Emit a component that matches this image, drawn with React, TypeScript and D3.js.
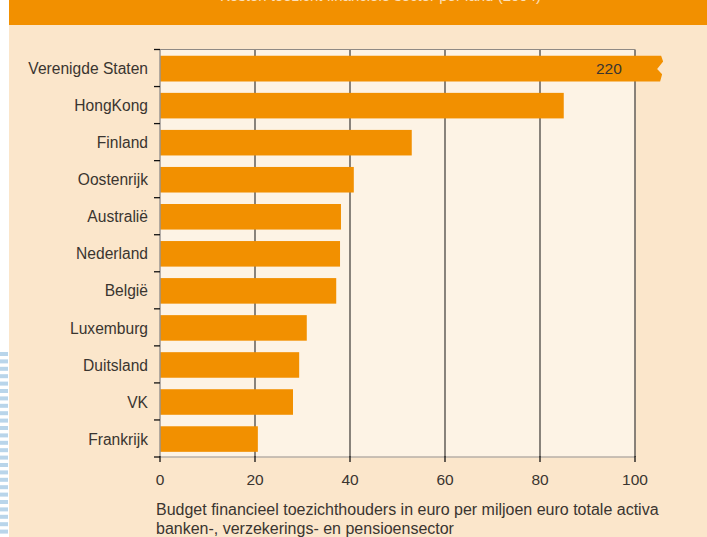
import React from "react";
import * as d3 from "d3";

const categories = [
  "Verenigde Staten",
  "HongKong",
  "Finland",
  "Oostenrijk",
  "Australië",
  "Nederland",
  "België",
  "Luxemburg",
  "Duitsland",
  "VK",
  "Frankrijk",
];
const values = [220, 85, 53, 40.8, 38.1, 37.9, 37.1, 30.9, 29.3, 28, 20.6];
const xTicks = [0, 20, 40, 60, 80, 100];
const captionLines = [
  "Budget financieel toezichthouders in euro per miljoen euro totale activa",
  "banken-, verzekerings- en pensioensector",
];
const breakValue = 105.5;

const W = 707;
const H = 537;
const ORANGE = "#f29000";
const BG = "#fbe6cb";
const PLOT_BG = "#fdf3e5";
const TEXT = "#3a3530";
const FONT = "'Liberation Sans', Arial, sans-serif";

export default function App() {
  const x = d3.scaleLinear().domain([0, 100]).range([160, 635]);
  const y = d3
    .scaleBand<string>()
    .domain(categories)
    .range([49.5, 457])
    .paddingInner(0.31)
    .paddingOuter(0.155)
    .align(0.55);
  const bandTop = (i: number) => 49.5 + i * ((457 - 49.5) / categories.length);

  const dashes = d3.range(352, 537, 7.4);

  return (
    <svg
      width={W}
      height={H}
      style={{ position: "absolute", left: 0, top: 0, display: "block" }}
      fontFamily={FONT}
    >
      <rect x={0} y={0} width={W} height={H} fill="#ffffff" />
      {dashes.map((d, i) => (
        <rect key={i} x={0} y={d} width={8} height={4} fill="#b9d5ea" />
      ))}
      <rect x={9} y={0} width={W - 9} height={H} fill={BG} />
      <rect x={9} y={0} width={W - 9} height={25} fill={ORANGE} />
      <text x={541} y={0.5} textAnchor="end" fontSize={15} fill="#fff6ea" opacity={0.8}>
        Kosten toezicht financiële sector per land (2004)
      </text>

      {/* plot background */}
      <rect x={x(0)} y={49.5} width={x(100) - x(0)} height={457 - 49.5} fill={PLOT_BG} />

      {/* gridlines */}
      {xTicks.slice(1).map((t) => (
        <line
          key={t}
          x1={x(t)}
          x2={x(t)}
          y1={49.5}
          y2={457}
          stroke="#6b6661"
          strokeWidth={1.6}
        />
      ))}
      {/* top border */}
      <line x1={x(0)} x2={x(100)} y1={49.5} y2={49.5} stroke="#8f8a85" strokeWidth={1.2} />

      {/* bars */}
      {categories.map((c, i) => {
        const v = values[i];
        const y0 = y(c)!;
        const bh = y.bandwidth();
        if (v > 100) {
          const xe = x(breakValue);
          const pts = [
            [x(0), y0],
            [xe, y0],
            [xe + 2, y0 + bh * 0.22],
            [xe - 4, y0 + bh * 0.52],
            [xe + 1, y0 + bh * 0.72],
            [xe - 1, y0 + bh],
            [x(0), y0 + bh],
          ];
          return (
            <g key={c}>
              <polygon points={pts.map((p) => p.join(",")).join(" ")} fill={ORANGE} />
              <text
                x={x(94.5)}
                y={y0 + bh / 2}
                dy="0.36em"
                textAnchor="middle"
                fontSize={15.5}
                fill={TEXT}
              >
                {v}
              </text>
            </g>
          );
        }
        return (
          <rect key={c} x={x(0)} y={y0} width={x(v) - x(0)} height={bh} fill={ORANGE} />
        );
      })}

      {/* left axis */}
      <line x1={x(0)} x2={x(0)} y1={49.5} y2={457} stroke="#9a9590" strokeWidth={1.5} />
      {d3.range(categories.length + 1).map((i) => (
        <line
          key={i}
          x1={x(0) - 6}
          x2={x(0)}
          y1={bandTop(i)}
          y2={bandTop(i)}
          stroke="#111"
          strokeWidth={1.3}
        />
      ))}
      {categories.map((c) => (
        <text
          key={c}
          x={x(0) - 12}
          y={y(c)! + y.bandwidth() / 2}
          dy="0.36em"
          textAnchor="end"
          fontSize={15.6}
          fill={TEXT}
        >
          {c}
        </text>
      ))}

      {/* bottom axis */}
      <line x1={x(0)} x2={x(100)} y1={457} y2={457} stroke="#b7afa7" strokeWidth={1.6} />
      {xTicks.map((t) => (
        <g key={t}>
          <line x1={x(t)} x2={x(t)} y1={456} y2={462} stroke="#111" strokeWidth={1.3} />
          <text x={x(t)} y={479} dy="0.36em" textAnchor="middle" fontSize={15.5} fill={TEXT}>
            {t}
          </text>
        </g>
      ))}

      {captionLines.map((l, i) => (
        <text key={i} x={156} y={515} dy={i * 19} fontSize={16} fill={TEXT}>
          {l}
        </text>
      ))}
    </svg>
  );
}
